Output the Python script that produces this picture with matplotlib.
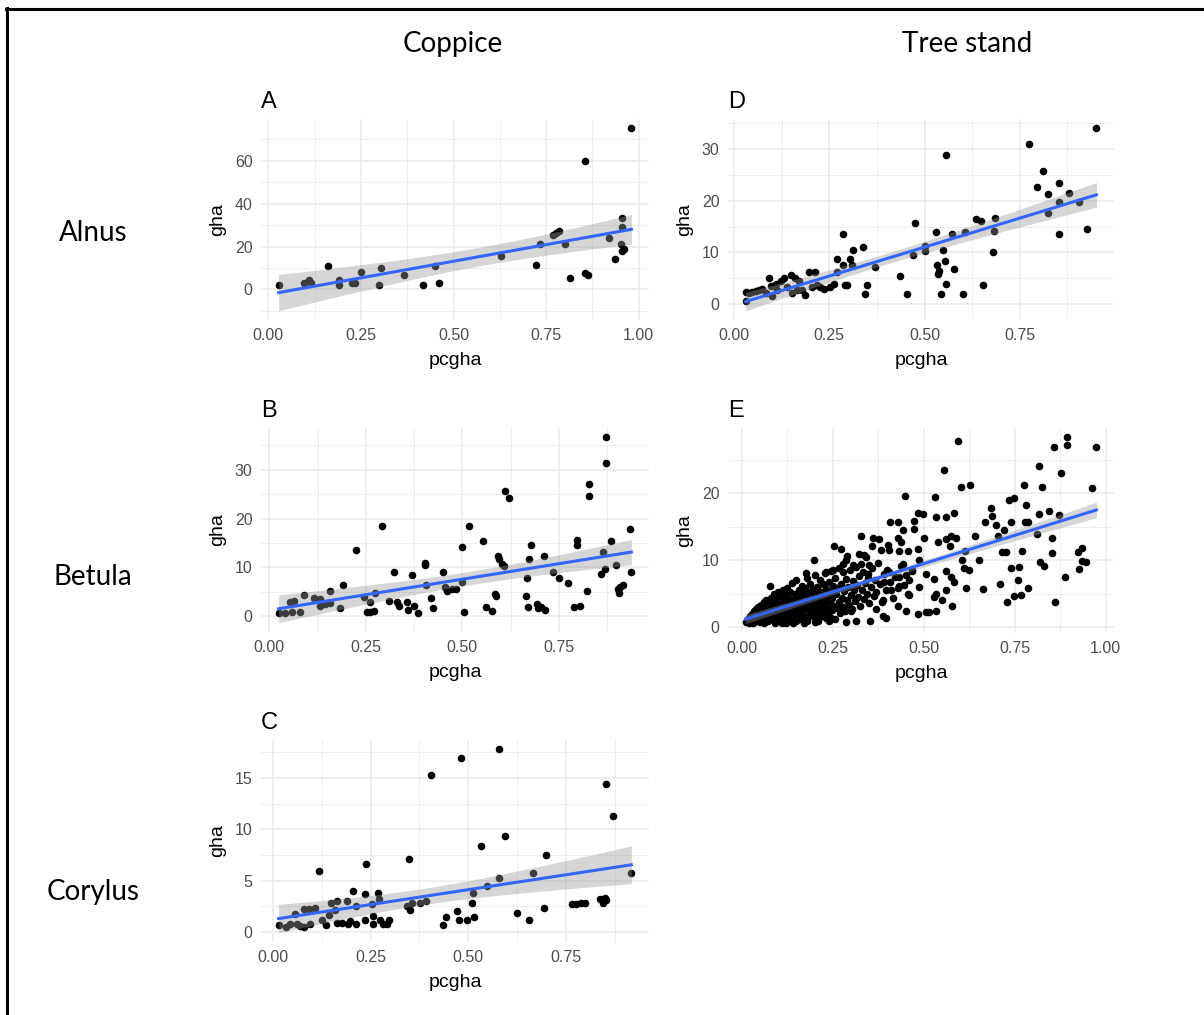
import numpy as np
import matplotlib
matplotlib.use("Agg")
import matplotlib.pyplot as plt
from matplotlib.ticker import MultipleLocator, FormatStrFormatter
from matplotlib.lines import Line2D

# Alnus, coppice (panel A)
a_x = [0.028, 0.097, 0.109, 0.115, 0.160, 0.190, 0.190, 0.226, 0.234, 0.250,
       0.300, 0.305, 0.366, 0.417, 0.449, 0.462, 0.629, 0.723, 0.734, 0.768,
       0.776, 0.785, 0.800, 0.814, 0.854, 0.854, 0.863, 0.920, 0.935, 0.955,
       0.955, 0.952, 0.955, 0.961, 0.980]
a_y = [2.2, 3.1, 4.2, 2.9, 10.8, 4.6, 2.3, 3.1, 3.1, 8.3,
       2.3, 9.8, 6.5, 2.2, 10.8, 3.1, 15.7, 11.5, 21.4, 25.4,
       26.3, 27.2, 21.1, 5.5, 59.8, 7.5, 6.5, 24.2, 14.2, 33.4,
       29.1, 21.1, 17.7, 18.8, 75.2]

# Betula, coppice (panel B)
b_x = [0.024, 0.041, 0.054, 0.059, 0.063, 0.080, 0.091, 0.115, 0.132, 0.132,
       0.145, 0.158, 0.158, 0.182, 0.192, 0.225, 0.244, 0.253, 0.261, 0.261,
       0.272, 0.274, 0.291, 0.309, 0.322, 0.332, 0.337, 0.356, 0.360, 0.369,
       0.375, 0.384, 0.403, 0.403, 0.405, 0.418, 0.423, 0.451, 0.455, 0.459,
       0.472, 0.483, 0.498, 0.498, 0.504, 0.518, 0.553, 0.561, 0.576, 0.584,
       0.587, 0.593, 0.596, 0.602, 0.608, 0.610, 0.621, 0.664, 0.668, 0.669,
       0.673, 0.677, 0.694, 0.697, 0.705, 0.711, 0.714, 0.735, 0.750, 0.774,
       0.790, 0.796, 0.797, 0.804, 0.822, 0.828, 0.828, 0.860, 0.864, 0.869,
       0.871, 0.871, 0.884, 0.899, 0.903, 0.906, 0.909, 0.916, 0.934, 0.938]
b_y = [0.7, 0.7, 2.9, 0.9, 3.1, 0.9, 4.4, 3.7, 3.6, 2.2,
       2.6, 5.3, 2.7, 1.8, 6.4, 13.5, 3.9, 0.9, 2.9, 0.9,
       1.1, 4.8, 18.5, 3.2, 9.0, 2.9, 2.1, 2.9, 1.4, 8.5,
       2.2, 0.7, 11.0, 10.5, 6.4, 3.8, 1.8, 9.0, 6.0, 5.1,
       5.6, 5.6, 14.2, 7.0, 1.0, 18.5, 15.4, 1.9, 1.2, 4.6,
       4.1, 12.4, 11.7, 10.7, 10.4, 25.6, 24.1, 4.1, 7.9, 1.9,
       11.7, 14.6, 2.6, 1.8, 1.9, 12.4, 1.4, 9.0, 7.9, 6.8,
       1.9, 14.6, 15.7, 2.2, 5.3, 27.1, 24.6, 8.7, 13.1, 9.7,
       36.6, 31.3, 15.4, 10.6, 5.6, 4.7, 6.0, 6.4, 17.8, 9.0]

# Corylus, coppice (panel C)
c_x = [0.014, 0.032, 0.044, 0.057, 0.061, 0.070, 0.078, 0.080, 0.091, 0.095,
       0.108, 0.118, 0.125, 0.136, 0.142, 0.147, 0.158, 0.164, 0.164, 0.176,
       0.188, 0.191, 0.198, 0.204, 0.211, 0.213, 0.236, 0.238, 0.236, 0.253,
       0.257, 0.256, 0.268, 0.270, 0.275, 0.281, 0.292, 0.298, 0.343, 0.347,
       0.350, 0.356, 0.377, 0.392, 0.404, 0.436, 0.443, 0.471, 0.475, 0.481,
       0.496, 0.509, 0.515, 0.513, 0.532, 0.547, 0.580, 0.580, 0.594, 0.624,
       0.656, 0.665, 0.695, 0.699, 0.765, 0.777, 0.788, 0.799, 0.837, 0.846,
       0.850, 0.854, 0.852, 0.871, 0.918]
c_y = [0.68, 0.48, 0.74, 1.7, 0.74, 0.58, 2.2, 0.48, 2.2, 0.74,
       2.35, 5.9, 1.2, 0.65, 1.65, 2.8, 2.1, 3.0, 0.9, 0.9,
       3.0, 0.74, 1.06, 4.0, 2.5, 0.74, 3.7, 6.6, 1.2, 2.7,
       1.55, 0.74, 3.8, 3.2, 1.2, 0.74, 0.74, 1.2, 2.5, 7.1,
       2.1, 2.8, 2.8, 3.0, 15.3, 0.68, 1.4, 2.0, 1.2, 16.9,
       1.2, 2.8, 1.45, 3.8, 8.4, 4.45, 5.2, 17.8, 9.3, 1.8,
       1.2, 5.7, 2.35, 7.5, 2.7, 2.75, 2.8, 2.8, 3.2, 2.8,
       3.3, 3.15, 14.4, 11.3, 5.7]

# Alnus, tree stand (panel D)
d_x = [0.030, 0.030, 0.039, 0.048, 0.057, 0.065, 0.074, 0.083, 0.091, 0.096,
       0.100, 0.109, 0.113, 0.122, 0.131, 0.139, 0.148, 0.152, 0.161, 0.165,
       0.170, 0.179, 0.187, 0.196, 0.205, 0.213, 0.218, 0.226, 0.235, 0.252,
       0.261, 0.270, 0.270, 0.285, 0.285, 0.291, 0.296, 0.305, 0.313, 0.309,
       0.338, 0.344, 0.350, 0.370, 0.435, 0.455, 0.470, 0.475, 0.500, 0.500,
       0.531, 0.533, 0.534, 0.538, 0.544, 0.548, 0.553, 0.557, 0.557, 0.573,
       0.576, 0.601, 0.605, 0.635, 0.647, 0.654, 0.679, 0.683, 0.685, 0.775,
       0.796, 0.811, 0.825, 0.825, 0.853, 0.853, 0.853, 0.879, 0.905, 0.927,
       0.951]
d_y = [2.4, 0.6, 2.1, 2.3, 2.5, 2.8, 2.9, 2.2, 5.0, 3.5,
       1.6, 4.0, 2.8, 4.4, 5.0, 3.4, 5.6, 2.2, 5.0, 2.8,
       4.4, 2.8, 1.7, 6.2, 3.4, 6.2, 3.7, 3.4, 3.0, 3.4,
       4.0, 8.7, 6.3, 13.5, 7.5, 3.7, 3.7, 8.7, 10.4, 7.5,
       11.1, 2.0, 3.7, 7.2, 5.5, 2.0, 9.6, 15.6, 11.2, 10.3,
       13.9, 7.5, 5.9, 6.5, 2.0, 10.4, 8.3, 4.0, 28.8, 13.5,
       6.8, 2.0, 14.0, 16.4, 16.0, 3.7, 10.0, 14.1, 16.6, 30.9,
       22.6, 25.7, 21.2, 17.6, 23.5, 19.8, 13.5, 21.5, 19.8, 14.5,
       34.0]

# Betula, tree stand (panel E): scattered points
e_x = [0.893, 0.893, 0.858, 0.975, 0.593, 0.556, 0.817, 0.878, 0.602, 0.628,
       0.776, 0.826, 0.963, 0.448, 0.531, 0.735, 0.748, 0.684, 0.780, 0.483,
       0.497, 0.584, 0.845, 0.817, 0.872, 0.689, 0.533, 0.561, 0.474, 0.408,
       0.428, 0.669, 0.698, 0.739, 0.778, 0.788, 0.721, 0.474, 0.442, 0.640,
       0.705, 0.328, 0.361, 0.378, 0.428, 0.437, 0.501, 0.538, 0.561, 0.575,
       0.588, 0.812, 0.853, 0.254, 0.272, 0.359, 0.401, 0.382, 0.405, 0.432,
       0.456, 0.485, 0.573, 0.614, 0.716, 0.725, 0.771, 0.853, 0.925, 0.934,
       0.323, 0.337, 0.289, 0.286, 0.199, 0.305, 0.328, 0.350, 0.442, 0.488,
       0.605, 0.652, 0.821, 0.830, 0.936, 0.947, 0.927, 0.739, 0.762, 0.611,
       0.625, 0.250, 0.277, 0.346, 0.231, 0.177, 0.405, 0.469, 0.506, 0.561,
       0.888, 0.432, 0.460, 0.529, 0.575, 0.760, 0.709, 0.392, 0.432, 0.488,
       0.584, 0.616, 0.788, 0.663, 0.561, 0.409, 0.458, 0.533, 0.748, 0.767,
       0.529, 0.551, 0.730, 0.862, 0.579, 0.369, 0.387, 0.428, 0.451, 0.483,
       0.506, 0.515, 0.533, 0.387, 0.396, 0.300, 0.286, 0.314, 0.352]
e_y = [28.4, 27.2, 27.0, 27.0, 27.8, 23.5, 24.1, 23.0, 21.0, 21.3,
       21.3, 21.0, 20.8, 19.6, 19.4, 19.0, 19.3, 17.9, 18.3, 17.1,
       16.9, 17.1, 17.4, 16.9, 16.8, 16.6, 16.5, 16.5, 15.9, 15.7,
       15.7, 15.7, 15.3, 15.7, 15.8, 15.7, 14.6, 14.7, 14.6, 13.7,
       13.6, 13.7, 13.4, 13.2, 13.4, 12.8, 13.3, 12.8, 13.2, 13.6,
       13.3, 13.9, 13.3, 12.2, 11.7, 12.1, 12.3, 11.5, 11.5, 11.4,
       11.4, 11.7, 12.1, 11.4, 11.3, 11.3, 11.4, 11.1, 11.3, 11.9,
       11.0, 10.8, 10.7, 10.0, 10.0, 9.3, 9.5, 9.3, 9.5, 10.0,
       10.0, 10.0, 9.8, 9.2, 9.9, 9.8, 8.7, 8.9, 9.0, 8.8,
       8.5, 8.5, 8.3, 8.0, 8.3, 8.1, 8.3, 8.5, 8.0, 8.4,
       7.5, 7.5, 7.0, 7.2, 7.5, 7.1, 6.5, 6.7, 6.2, 6.0,
       6.7, 5.8, 5.8, 5.7, 5.5, 5.5, 5.0, 5.0, 4.7, 4.8,
       4.5, 4.1, 3.8, 3.7, 3.1, 2.7, 4.0, 3.2, 2.4, 1.9,
       2.3, 2.3, 2.4, 1.6, 1.4, 2.4, 0.8, 0.9, 0.9]

# Betula, tree stand (panel E): dense cloud at low pcgha
e_cloud_x = [
    0.010, 0.014, 0.016, 0.019, 0.021, 0.023, 0.026, 0.027, 0.029, 0.031,
    0.033, 0.034, 0.036, 0.038, 0.039, 0.041, 0.043, 0.045, 0.046, 0.048,
    0.050, 0.051, 0.053, 0.055, 0.056, 0.058, 0.060, 0.061, 0.063, 0.065,
    0.066, 0.068, 0.070, 0.071, 0.073, 0.074, 0.076, 0.078, 0.079, 0.081,
    0.083, 0.084, 0.086, 0.088, 0.089, 0.091, 0.093, 0.094, 0.096, 0.098,
    0.099, 0.101, 0.103, 0.105, 0.106, 0.108, 0.110, 0.112, 0.113, 0.115,
    0.117, 0.118, 0.120, 0.122, 0.124, 0.125, 0.127, 0.129, 0.131, 0.132,
    0.134, 0.136, 0.138, 0.139, 0.141, 0.143, 0.145, 0.146, 0.148, 0.150,
    0.152, 0.153, 0.155, 0.157, 0.158, 0.160, 0.162, 0.164, 0.165, 0.167,
    0.169, 0.171, 0.172, 0.174, 0.176, 0.178, 0.179, 0.181, 0.183, 0.185,
    0.186, 0.188, 0.190, 0.192, 0.193, 0.195, 0.197, 0.199, 0.200, 0.202,
    0.204, 0.206, 0.207, 0.209, 0.211, 0.213, 0.214, 0.216, 0.218, 0.220,
    0.221, 0.223, 0.225, 0.227, 0.228, 0.230, 0.232, 0.234, 0.235, 0.237,
    0.239, 0.241, 0.242, 0.244, 0.246, 0.248, 0.249, 0.251, 0.253, 0.255,
    0.257, 0.259, 0.261, 0.263, 0.266, 0.268, 0.270, 0.272, 0.275, 0.277,
    0.279, 0.282, 0.284, 0.287, 0.289, 0.292, 0.294, 0.297, 0.300, 0.303,
    0.305, 0.308, 0.311, 0.314, 0.317, 0.320, 0.323, 0.326, 0.329, 0.332,
    0.335, 0.338, 0.341, 0.344, 0.347, 0.350, 0.354, 0.358, 0.362, 0.366,
    0.370, 0.375, 0.380, 0.385, 0.390, 0.395, 0.400, 0.408, 0.415, 0.422,
    0.430, 0.438, 0.445, 0.452, 0.460, 0.468,
    0.030, 0.060, 0.090, 0.122, 0.150, 0.180, 0.210, 0.240, 0.110, 0.140,
    0.170, 0.200, 0.231, 0.045, 0.075, 0.105, 0.135, 0.165, 0.195, 0.225,
]
e_cloud_y = [
    0.8, 1.0, 1.3, 0.7, 1.1, 1.6, 0.9, 2.0, 1.3, 0.8,
    1.8, 2.4, 1.1, 2.7, 1.5, 0.9, 2.1, 3.0, 1.3, 2.5,
    1.7, 0.8, 3.3, 2.2, 1.4, 2.9, 1.0, 3.7, 1.9, 2.6,
    4.1, 1.3, 3.1, 2.2, 0.9, 3.6, 1.7, 6.2, 2.7, 4.4,
    1.2, 3.2, 2.1, 4.9, 1.6, 3.8, 2.6, 0.9, 4.3, 1.9,
    5.3, 3.0, 2.3, 1.3, 4.7, 3.5, 2.0, 5.6, 1.1, 3.9,
    2.8, 4.9, 1.6, 3.3, 5.9, 2.4, 4.4, 1.3, 3.7, 5.2,
    2.9, 1.9, 4.1, 6.6, 3.2, 1.4, 5.0, 2.5, 3.8, 7.0,
    1.8, 4.6, 3.1, 5.6, 2.2, 4.0, 1.2, 6.1, 3.4, 2.6,
    4.9, 1.7, 3.9, 5.8, 2.9, 7.3, 4.3, 1.5, 3.3, 5.2,
    2.3, 6.5, 4.0, 1.9, 3.0, 5.5, 2.6, 4.6, 7.8, 1.4,
    3.6, 6.0, 2.8, 4.9, 1.8, 3.9, 7.1, 2.4, 5.3, 3.2,
    1.6, 6.4, 4.3, 2.7, 8.1, 3.6, 5.7, 1.9, 4.8, 2.9,
    6.8, 3.9, 1.5, 5.2, 8.4, 2.5, 4.4, 6.1, 3.2, 1.3,
    7.4, 4.9, 2.8, 5.8, 3.7, 8.8, 2.1, 6.5, 4.3, 3.0,
    9.4, 5.4, 2.4, 7.2, 4.0, 6.0, 3.3, 8.6, 4.8, 2.7,
    6.9, 5.6, 3.9, 9.0, 6.3, 4.5, 7.7, 3.1, 5.5, 8.3,
    4.2, 6.6, 10.5, 5.0, 7.4, 3.6, 6.0, 8.9, 4.6, 7.0,
    5.3, 9.6, 6.4, 3.8, 7.9, 5.6, 8.6, 6.8, 4.4, 7.5,
    5.9, 9.2, 6.3, 7.8, 4.8, 8.4,
    0.6, 0.7, 0.7, 0.66, 0.9, 0.9, 1.0, 1.0, 0.6, 0.7,
    0.6, 0.8, 1.4, 1.6, 2.0, 2.4, 2.8, 3.0, 3.4, 3.9,
]
e_x = e_x + e_cloud_x
e_y = e_y + e_cloud_y

panels = [
    ("A", a_x, a_y, 20),
    ("B", b_x, b_y, 10),
    ("C", c_x, c_y, 5),
    ("D", d_x, d_y, 10),
    ("E", e_x, e_y, 10),
]

TEXT = "Liberation Sans"
BLUE = "#3366FF"


def t975(df):
    z = 1.959964
    return z + (z**3 + z) / (4 * df) + (5 * z**5 + 16 * z**3 + 3 * z) / (96 * df**2)


def smooth(x, y, n=80):
    x = np.asarray(x, float)
    y = np.asarray(y, float)
    b, a = np.polyfit(x, y, 1)
    resid = y - (a + b * x)
    df = len(x) - 2
    s2 = np.sum(resid**2) / df
    sxx = np.sum((x - x.mean())**2)
    xs = np.linspace(x.min(), x.max(), n)
    fit = a + b * xs
    se = np.sqrt(s2 * (1 / len(x) + (xs - x.mean())**2 / sxx))
    return xs, fit, t975(df) * se


fig = plt.figure(figsize=(12.04, 10.15), dpi=100)
W, H = 1204, 1015
boxes = {
    "A": (261, 119, 388, 201),
    "B": (261, 428, 388, 204),
    "C": (261, 740, 388, 202),
    "D": (728, 119, 386, 201),
    "E": (728, 428, 386, 205),
}

for name, xv, yv, ystep in panels:
    l, t, w, h = boxes[name]
    ax = fig.add_axes([l / W, 1 - (t + h) / H, w / W, h / H])
    ax.scatter(xv, yv, s=30, color="black", linewidths=0, zorder=2)
    xs, fit, ci = smooth(xv, yv)
    ax.fill_between(xs, fit - ci, fit + ci, color="#999999", alpha=0.4,
                    linewidth=0, zorder=3)
    ax.plot(xs, fit, color=BLUE, lw=2.2, zorder=4)

    ax.xaxis.set_major_locator(MultipleLocator(0.25))
    ax.xaxis.set_minor_locator(MultipleLocator(0.125))
    ax.xaxis.set_major_formatter(FormatStrFormatter("%.2f"))
    ax.yaxis.set_major_locator(MultipleLocator(ystep))
    ax.yaxis.set_minor_locator(MultipleLocator(ystep / 2))
    ax.yaxis.set_major_formatter(FormatStrFormatter("%d"))
    ax.grid(True, which="major", color="#EBEBEB", lw=1.1, zorder=0)
    ax.grid(True, which="minor", color="#EBEBEB", lw=0.6, zorder=0)
    ax.set_axisbelow(True)
    for sp in ax.spines.values():
        sp.set_visible(False)
    ax.tick_params(which="both", length=0, labelsize=11.5, labelcolor="#4D4D4D",
                   pad=6)
    for lab in ax.get_xticklabels() + ax.get_yticklabels():
        lab.set_fontfamily(TEXT)
    ax.set_xlabel("pcgha", fontsize=14, family=TEXT, labelpad=6)
    ax.set_ylabel("gha", fontsize=14, family=TEXT, labelpad=6)
    ax.set_title(name, loc="left", fontsize=17, family=TEXT, pad=8)

HEAD = "Lato"
fig.text(453 / W, 1 - 44 / H, "Coppice", fontsize=20, family=HEAD,
         ha="center", va="center")
fig.text(967 / W, 1 - 44 / H, "Tree stand", fontsize=20, family=HEAD,
         ha="center", va="center")
for label, yc in [("Alnus", 233), ("Betula", 577), ("Corylus", 892)]:
    fig.text(93 / W, 1 - yc / H, label, fontsize=20, family=HEAD,
             ha="center", va="center")

# frame drawn at the top and left edge
fig.add_artist(Line2D([6 / W, 1], [1 - 9 / H, 1 - 9 / H], color="black",
                      lw=2.2, transform=fig.transFigure))
fig.add_artist(Line2D([7 / W, 7 / W], [0, 1 - 8 / H], color="black",
                      lw=2.2, transform=fig.transFigure))

fig.savefig("out.png", dpi=100)
